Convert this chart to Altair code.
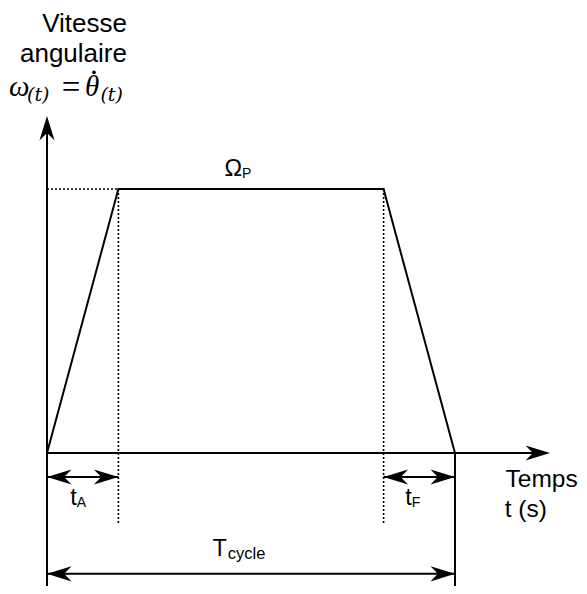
import altair as alt
import pandas as pd

# ---------------- data ----------------
T_CYCLE = 10.0      # cycle duration (s)
T_A = 1.75          # acceleration time (s)
T_F = 1.75          # braking time (s)
OMEGA_P = 1.0       # plateau speed (normalised)

profile_t = [0.0, T_A, T_CYCLE - T_F, T_CYCLE]
profile_w = [0.0, OMEGA_P, OMEGA_P, 0.0]

# view extents and annotation positions (data units)
X_MIN, X_MAX = -0.956, 13.04
Y_MIN, Y_MAX = -0.504, 1.686
X_AXIS_END = 12.33
Y_AXIS_END = 1.277
DOT_H_END = 2.35
DOT_V_END = -0.265
DIM_Y1 = -0.091
DIM_Y2 = -0.458

W, H = 571, 578
xs = alt.Scale(domain=[X_MIN, X_MAX], nice=False, zero=False)
ys = alt.Scale(domain=[Y_MIN, Y_MAX], nice=False, zero=False)

def X(f="x"):
    return alt.X(f"{f}:Q", scale=xs, axis=None)

def Y(f="y"):
    return alt.Y(f"{f}:Q", scale=ys, axis=None)

# ---- profile (trapezoid) ----
prof = pd.DataFrame({"x": profile_t, "y": profile_w, "o": range(4)})
profile = alt.Chart(prof).mark_line(color="black", strokeWidth=2).encode(
    x=X(), y=Y(), order="o:Q")

# ---- solid rules (axes, end vertical, dimension lines) ----
solid = pd.DataFrame([
    {"x": 0.0, "x2": X_AXIS_END - 0.3, "y": 0.0, "y2": 0.0},
    {"x": 0.0, "x2": 0.0, "y": Y_MIN, "y2": Y_AXIS_END - 0.05},
    {"x": T_CYCLE, "x2": T_CYCLE, "y": Y_MIN, "y2": 0.0},
    {"x": 0.0, "x2": T_A, "y": DIM_Y1, "y2": DIM_Y1},
    {"x": T_CYCLE - T_F, "x2": T_CYCLE, "y": DIM_Y1, "y2": DIM_Y1},
    {"x": 0.0, "x2": T_CYCLE, "y": DIM_Y2, "y2": DIM_Y2},
])
solid_rules = alt.Chart(solid).mark_rule(color="black", strokeWidth=2).encode(
    x=X(), x2="x2:Q", y=Y(), y2="y2:Q")

dotted = pd.DataFrame([
    {"x": 0.0, "x2": DOT_H_END, "y": OMEGA_P, "y2": OMEGA_P},
    {"x": T_A, "x2": T_A, "y": OMEGA_P, "y2": DOT_V_END},
    {"x": T_CYCLE - T_F, "x2": T_CYCLE - T_F, "y": OMEGA_P, "y2": DOT_V_END},
])
dotted_rules = alt.Chart(dotted).mark_rule(
    color="black", strokeWidth=1.6, strokeDash=[2, 2]).encode(
    x=X(), x2="x2:Q", y=Y(), y2="y2:Q")

# ---- arrow heads ----
ARROW = "M0,0 L0.62,2 L0,1.4 L-0.62,2 Z"
heads = pd.DataFrame([
    {"x": X_AXIS_END, "y": 0.0, "a": 90},
    {"x": 0.0, "y": Y_AXIS_END, "a": 0},
    {"x": 0.0, "y": DIM_Y1, "a": 270},
    {"x": T_A, "y": DIM_Y1, "a": 90},
    {"x": T_CYCLE - T_F, "y": DIM_Y1, "a": 270},
    {"x": T_CYCLE, "y": DIM_Y1, "a": 90},
    {"x": 0.0, "y": DIM_Y2, "a": 270},
    {"x": T_CYCLE, "y": DIM_Y2, "a": 90},
])
arrow_heads = alt.Chart(heads).mark_point(
    shape=ARROW, filled=True, fill="black", strokeWidth=0, size=600, opacity=1
).encode(x=X(), y=Y(), angle=alt.Angle("a:Q", scale=None))

# dot of the time derivative (theta-dot)
deriv_dot = alt.Chart(pd.DataFrame({"x": [1.153], "y": [1.442]})).mark_point(
    shape="circle", filled=True, fill="black", strokeWidth=0, size=13, opacity=1
).encode(x=X(), y=Y())

# ---- texts ----
SANS = "Liberation Sans"
SERIF = "Liberation Serif"

def txt(rows, size, align="left", font=SANS, style="normal"):
    df = pd.DataFrame(rows, columns=["x", "y", "t"])
    return alt.Chart(df).mark_text(
        fontSize=size, align=align, baseline="alphabetic", font=font,
        fontStyle=style, color="black").encode(x=X(), y=Y(), text="t:N")

texts = [
    txt([(1.96, 1.595, "Vitesse"), (1.96, 1.481, "angulaire")], 26, "right"),
    txt([(4.78, 1.049, "Ω"), (0.73, -0.197, "t"), (8.94, -0.197, "t"),
         (4.41, -0.390, "T")], 23.5, "right"),
    txt([(4.78, 1.041, "P"), (0.73, -0.205, "A"), (8.94, -0.205, "F")], 14, "left"),
    txt([(4.43, -0.402, "cycle")], 16.5, "left"),
    txt([(11.24, -0.129, "Temps"), (11.22, -0.242, "t (s)")], 24.5, "left"),
    txt([(-0.93, 1.352, "ω"), (0.93, 1.352, "θ")], 29, "left", SERIF, "italic"),
    txt([(-0.49, 1.335, "(t)"), (1.31, 1.335, "(t)")], 19, "left",
        "DejaVu Serif", "italic"),
    txt([(0.588, 1.345, "=")], 33, "center", SERIF),
]

chart = alt.layer(
    dotted_rules, solid_rules, profile, arrow_heads, deriv_dot, *texts
).properties(
    width=W, height=H, padding=0, autosize=alt.AutoSizeParams(type="none"),
    background="white"
).configure_view(stroke=None)

chart.save("out.html", embed_options={"renderer": "svg", "actions": False})
